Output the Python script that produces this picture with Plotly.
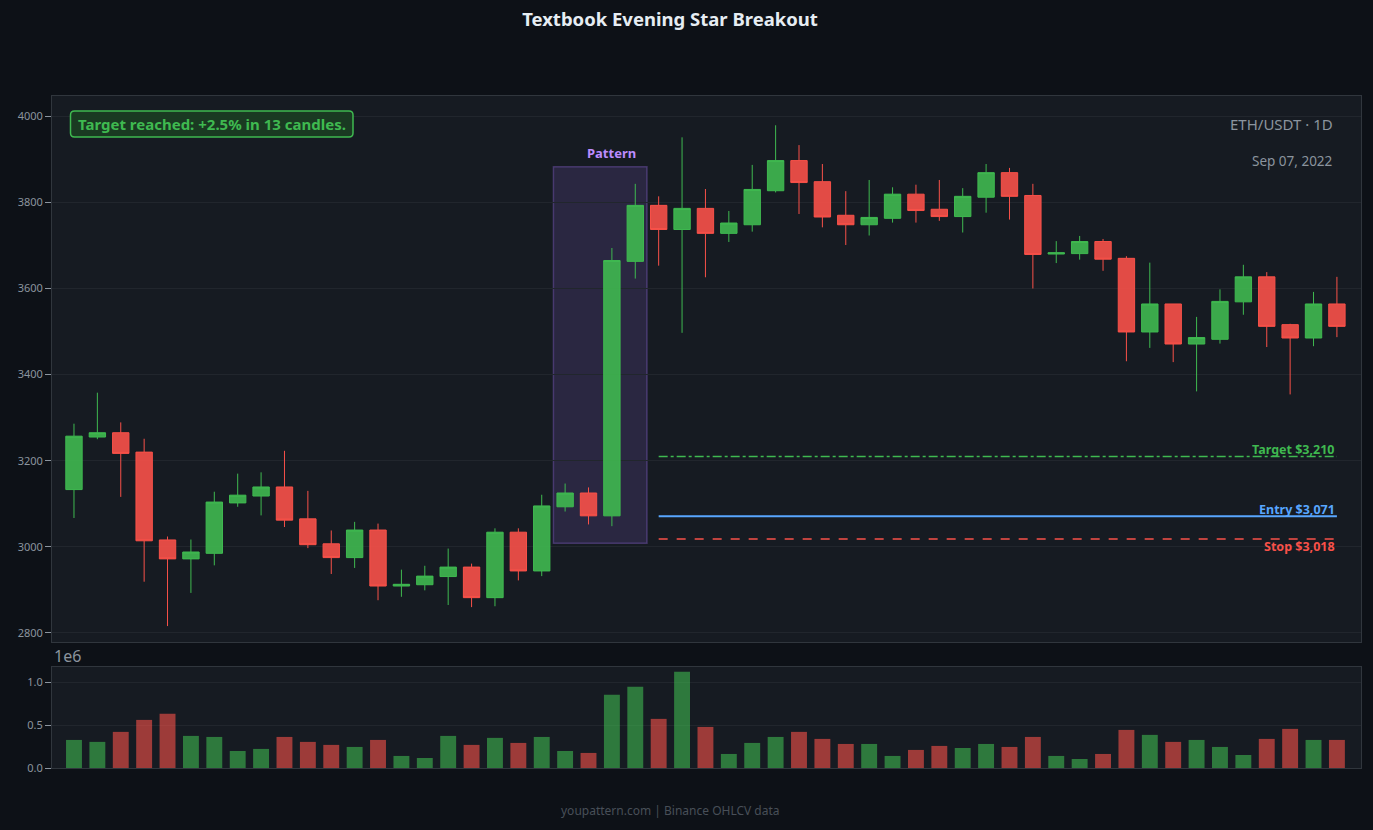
import plotly.graph_objects as go

# ---------------- data ----------------
candle_index = list(range(55))
open_ = [3133, 3255, 3265, 3220, 3016, 2972, 2985, 3102, 3118, 3139,
         3065, 3007, 2975, 3039, 2909, 2912, 2931, 2953, 2882, 3034,
         2944, 3093, 3125, 3072, 3663, 3793, 3737, 3786, 3728, 3748,
         3827, 3897, 3848, 3770, 3748, 3763, 3819, 3784, 3767, 3812,
         3869, 3816, 3680, 3681, 3709, 3670, 3499, 3564, 3471, 3482,
         3569, 3627, 3516, 3485, 3564]
high = [3286, 3358, 3289, 3251, 3024, 3017, 3128, 3170, 3173, 3223,
        3130, 3038, 3058, 3054, 2947, 2956, 2996, 2961, 3043, 3043,
        3121, 3147, 3138, 3694, 3843, 3814, 3951, 3831, 3780, 3887,
        3979, 3933, 3889, 3826, 3852, 3835, 3841, 3852, 3833, 3889,
        3880, 3843, 3710, 3722, 3715, 3675, 3660, 3564, 3534, 3598,
        3655, 3638, 3518, 3592, 3627]
low = [3067, 3250, 3116, 2919, 2816, 2893, 2957, 3093, 3073, 3046,
       2997, 2937, 2951, 2876, 2884, 2899, 2865, 2860, 2862, 2922,
       2932, 3082, 3052, 3048, 3623, 3653, 3497, 3626, 3708, 3732,
       3823, 3773, 3742, 3701, 3723, 3753, 3753, 3757, 3730, 3776,
       3760, 3600, 3659, 3667, 3641, 3431, 3462, 3429, 3361, 3472,
       3539, 3464, 3354, 3466, 3487]
close = [3257, 3265, 3217, 3014, 2972, 2988, 3104, 3120, 3139, 3062,
         3005, 2975, 3039, 2909, 2913, 2932, 2953, 2882, 3034, 2944,
         3095, 3125, 3072, 3665, 3793, 3737, 3786, 3728, 3752, 3830,
         3897, 3846, 3766, 3748, 3765, 3819, 3781, 3767, 3814, 3869,
         3814, 3679, 3683, 3709, 3668, 3499, 3564, 3471, 3486, 3570,
         3627, 3512, 3485, 3564, 3512]
volume = [328000, 305000, 422000, 562000, 633000, 375000, 363000, 199000, 223000, 363000,
          305000, 270000, 246000, 328000, 141000, 117000, 375000, 270000, 352000, 293000,
          363000, 199000, 176000, 855000, 949000, 574000, 1125000, 480000, 164000, 293000,
          363000, 422000, 340000, 281000, 281000, 141000, 211000, 258000, 234000, 281000,
          246000, 363000, 141000, 105000, 164000, 445000, 387000, 305000, 328000, 246000,
          152000, 340000, 457000, 328000, 328000]

pattern_start, pattern_end = 21, 24
trade_start, trade_end = 25, 54
entry_price = 3071
target_price = 3210
stop_price = 3018

title_text = "Textbook Evening Star Breakout"
status_text = "Target reached: +2.5% in 13 candles."
symbol_text = "ETH/USDT · 1D"
date_text = "Sep 07, 2022"
footer_text = "youpattern.com | Binance OHLCV data"

# ---------------- styling ----------------
GREEN = "#3fb950"
RED = "#f85149"
BLUE = "#58a6ff"
PURPLE = "#bc8cff"
PAPER = "#0d1117"
PLOT = "#161b22"
GRID = "#21262d"
BORDER = "#30363d"
MUTED = "#8b949e"
FONT = "Noto Sans, Open Sans, sans-serif"

W, H = 1373, 830
ML, MR, MT, MB = 52, 12, 96, 62
PW, PH = W - ML - MR, H - MT - MB


def px_x(px):
    return (px - ML) / PW


def px_y(py):
    return (H - MB - py) / PH


fig = go.Figure()

fig.add_trace(go.Candlestick(
    x=candle_index, open=open_, high=high, low=low, close=close,
    increasing=dict(line=dict(color=GREEN, width=1), fillcolor="rgba(63,185,80,0.9)"),
    decreasing=dict(line=dict(color=RED, width=1), fillcolor="rgba(248,81,73,0.9)"),
    xaxis="x", yaxis="y", showlegend=False, name="ETH/USDT",
))

vol_m = [v / 1e6 for v in volume]
vol_colors = [GREEN if c >= o else RED for o, c in zip(open_, close)]
fig.add_trace(go.Bar(
    x=candle_index, y=vol_m, marker=dict(color=vol_colors, opacity=0.6, line=dict(width=0)),
    xaxis="x2", yaxis="y2", showlegend=False, name="Volume",
))

# pattern highlight box
pat_lo = min(low[pattern_start:pattern_end + 1])
pat_hi = max(high[pattern_start:pattern_end + 1])
pad = (pat_hi - pat_lo) * 0.05
fig.add_shape(type="rect", xref="x", yref="y",
              x0=pattern_start - 0.5, x1=pattern_end + 0.5,
              y0=pat_lo - pad, y1=pat_hi + pad,
              fillcolor="rgba(163,113,247,0.15)",
              line=dict(color="rgba(163,113,247,0.3)", width=1.5), layer="below")
fig.add_annotation(x=pattern_start + 2, y=pat_hi + pad, xref="x", yref="y",
                   text="<b>Pattern</b>", showarrow=False, yanchor="bottom", yshift=3,
                   font=dict(color=PURPLE, size=13, family=FONT))

# trade levels
fig.add_shape(type="line", xref="x", yref="y", x0=trade_start, x1=trade_end,
              y0=target_price, y1=target_price, line=dict(color=GREEN, width=1.5, dash="dashdot"))
fig.add_shape(type="line", xref="x", yref="y", x0=trade_start, x1=trade_end,
              y0=entry_price, y1=entry_price, line=dict(color=BLUE, width=2))
fig.add_shape(type="line", xref="x", yref="y", x0=trade_start, x1=trade_end,
              y0=stop_price, y1=stop_price, line=dict(color=RED, width=1.5, dash="dash"))
fig.add_annotation(x=trade_end, y=target_price, xref="x", yref="y", showarrow=False,
                   text=f"<b>Target ${target_price:,}</b>", xanchor="right", yanchor="bottom",
                   yshift=-4, font=dict(color=GREEN, size=12.5, family=FONT))
fig.add_annotation(x=trade_end, y=entry_price, xref="x", yref="y", showarrow=False,
                   text=f"<b>Entry ${entry_price:,}</b>", xanchor="right", yanchor="bottom",
                   yshift=-4, font=dict(color=BLUE, size=12.5, family=FONT))
fig.add_annotation(x=trade_end, y=stop_price, xref="x", yref="y", showarrow=False,
                   text=f"<b>Stop ${stop_price:,}</b>", xanchor="right", yanchor="top",
                   yshift=3, font=dict(color=RED, size=12.5, family=FONT))

# status badge with rounded corners
bx0, bx1, by0, by1, r = 70.5, 353, 111, 137, 4
path = (f"M {px_x(bx0 + r)},{px_y(by0)} L {px_x(bx1 - r)},{px_y(by0)} "
        f"Q {px_x(bx1)},{px_y(by0)} {px_x(bx1)},{px_y(by0 + r)} "
        f"L {px_x(bx1)},{px_y(by1 - r)} Q {px_x(bx1)},{px_y(by1)} {px_x(bx1 - r)},{px_y(by1)} "
        f"L {px_x(bx0 + r)},{px_y(by1)} Q {px_x(bx0)},{px_y(by1)} {px_x(bx0)},{px_y(by1 - r)} "
        f"L {px_x(bx0)},{px_y(by0 + r)} Q {px_x(bx0)},{px_y(by0)} {px_x(bx0 + r)},{px_y(by0)} Z")
fig.add_shape(type="path", xref="paper", yref="paper", path=path,
              fillcolor="#1a3a22", line=dict(color=GREEN, width=1.5), layer="above")
fig.add_annotation(x=px_x((bx0 + bx1) / 2), y=px_y((by0 + by1) / 2), xref="paper", yref="paper",
                   showarrow=False, text=f"<b>{status_text}</b>", xanchor="center",
                   yanchor="middle", font=dict(color=GREEN, size=15, family=FONT))

fig.add_annotation(x=px_x(1335), y=px_y(124), xref="paper", yref="paper", showarrow=False,
                   text=symbol_text, xanchor="right", yanchor="middle",
                   font=dict(color=MUTED, size=15, family=FONT))
fig.add_annotation(x=px_x(1335), y=px_y(161), xref="paper", yref="paper", showarrow=False,
                   text=date_text, xanchor="right", yanchor="middle",
                   font=dict(color=MUTED, size=13.5, family=FONT))
fig.add_annotation(x=0, y=px_y(656), xref="paper", yref="paper", showarrow=False,
                   text="1e6", xanchor="left", yanchor="middle",
                   font=dict(color=MUTED, size=16, family=FONT))
fig.add_annotation(x=px_x(670), y=px_y(810), xref="paper", yref="paper",
                   showarrow=False, text=footer_text, xanchor="center", yanchor="middle",
                   font=dict(color="#484f58", size=12, family=FONT))

axis_common = dict(gridcolor=GRID, zeroline=False, showline=True, linecolor=BORDER,
                   linewidth=1, mirror=True, tickfont=dict(color=MUTED, size=11, family=FONT))

fig.update_layout(
    width=W, height=H,
    paper_bgcolor=PAPER, plot_bgcolor=PLOT,
    margin=dict(l=ML, r=MR, t=MT, b=MB),
    title=dict(text=f"<b>{title_text}</b>", x=670 / W, xanchor="center", y=1 - 20 / H,
               yanchor="middle", font=dict(color="#e6edf3", size=18.5, family=FONT)),
    font=dict(family=FONT, color=MUTED),
    showlegend=False,
    bargap=0.32,
    boxgap=0.3,
    boxgroupgap=0,
    xaxis=dict(domain=[0, 1], anchor="y", range=[-0.94, 55.03], showticklabels=False,
               rangeslider=dict(visible=False), showgrid=False, ticks="", **axis_common),
    yaxis=dict(domain=[px_y(642), 1], anchor="x", range=[2779, 4047], tick0=2800, dtick=200,
               ticks="outside", ticklen=6, tickcolor=MUTED, **axis_common),
    xaxis2=dict(domain=[0, 1], anchor="y2", matches="x", range=[-0.94, 55.03],
                showticklabels=False, showgrid=False, ticks="", **axis_common),
    yaxis2=dict(domain=[0, px_y(667)], anchor="x2", range=[0, 1.18], tickvals=[0, 0.5, 1.0],
                tickformat=".1f", ticks="outside", ticklen=6, tickcolor=MUTED, **axis_common),
)

fig.write_html("out.html")
